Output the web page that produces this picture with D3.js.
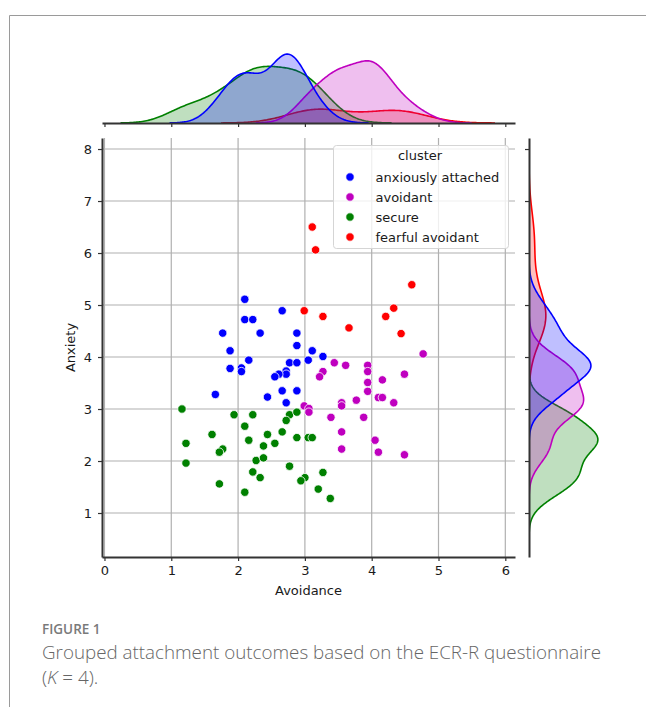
<!DOCTYPE html>
<html><head><meta charset="utf-8">
<script src="https://cdn.jsdelivr.net/npm/d3@7"></script>
<style>
html,body{margin:0;padding:0;background:#fff;}
svg{display:block;}
</style></head>
<body>
<script>
// ---------- data ----------
const clusters = ["anxiously attached", "avoidant", "secure", "fearful avoidant"];
const clusterColors = ["#0000ff", "#bf00bf", "#008000", "#ff0000"];

const anxiousAvoidance = [2.10,2.66,2.10,2.22,1.77,2.33,2.88,2.88,1.88,3.11,2.16,2.77,2.88,3.05,3.27,1.88,2.05,2.05,2.72,2.72,2.61,2.55,1.66,2.66,2.88,2.44,2.72];
const anxiousAnxiety   = [5.11,4.89,4.72,4.72,4.46,4.46,4.46,4.22,4.12,4.12,3.94,3.89,3.89,3.94,4.01,3.78,3.79,3.72,3.73,3.67,3.67,3.62,3.28,3.35,3.35,3.23,3.12];

const avoidantAvoidance = [4.77,3.44,3.61,3.94,3.94,3.27,3.22,4.49,3.94,4.16,3.94,3.77,4.10,4.16,4.33,3.55,3.55,2.99,3.06,3.06,3.39,3.88,3.55,4.05,3.55,4.10,4.49];
const avoidantAnxiety   = [4.06,3.89,3.84,3.84,3.72,3.72,3.62,3.67,3.51,3.56,3.34,3.17,3.22,3.22,3.12,3.12,3.06,3.06,3.01,2.94,2.84,2.84,2.56,2.40,2.23,2.17,2.12];

const secureAvoidance = [1.16,1.94,2.22,2.77,2.88,2.72,2.10,2.66,1.61,2.44,2.88,3.05,3.11,2.16,2.55,1.22,2.38,1.77,1.72,2.27,2.38,1.22,2.77,2.22,2.33,3.00,2.94,1.72,2.10,3.20,3.27,3.38];
const secureAnxiety   = [3.00,2.89,2.89,2.89,2.94,2.78,2.67,2.56,2.51,2.51,2.45,2.45,2.45,2.40,2.34,2.34,2.29,2.23,2.17,2.01,2.06,1.96,1.90,1.79,1.68,1.68,1.62,1.56,1.40,1.46,1.78,1.28];

const fearfulAvoidance = [3.11,3.16,4.60,4.33,2.99,3.27,4.21,3.66,4.44];
const fearfulAnxiety   = [6.50,6.06,5.39,4.94,4.89,4.78,4.78,4.56,4.45];

const xTicks = [0,1,2,3,4,5,6];
const yTicks = [1,2,3,4,5,6,7,8];

const groupX = [anxiousAvoidance, avoidantAvoidance, secureAvoidance, fearfulAvoidance];
const groupY = [anxiousAnxiety, avoidantAnxiety, secureAnxiety, fearfulAnxiety];

// ---------- layout ----------
const W = 646, H = 707;
const svg = d3.select("body").append("svg").attr("width", W).attr("height", H);
svg.append("rect").attr("width", W).attr("height", H).attr("fill", "#fff");

// frame (top & left border)
svg.append("path").attr("d", "M9.5,707 V15.5 H646").attr("fill", "none").attr("stroke", "#9a9a9a").attr("stroke-width", 1);

const x = d3.scaleLinear().domain([-0.037, 6.145]).range([102, 515]);
const y = d3.scaleLinear().domain([0.154, 8.212]).range([557, 138]);

const font = "'DejaVu Sans', sans-serif";
const axisCol = "#333";

// grid
const g = svg.append("g");
g.selectAll(".gx").data(xTicks).join("line")
  .attr("x1", d => x(d)).attr("x2", d => x(d)).attr("y1", y.range()[0]).attr("y2", y.range()[1])
  .attr("stroke", "#b0b0b0").attr("stroke-width", 1.2);
g.selectAll(".gy").data(yTicks).join("line")
  .attr("y1", d => y(d)).attr("y2", d => y(d)).attr("x1", x.range()[0]).attr("x2", x.range()[1])
  .attr("stroke", "#b0b0b0").attr("stroke-width", 1.2);

// axes
const xAxis = d3.axisBottom(x).tickValues(xTicks).tickFormat(d3.format("d")).tickSize(4).tickPadding(5).tickSizeOuter(0);
const yAxis = d3.axisLeft(y).tickValues(yTicks).tickFormat(d3.format("d")).tickSize(4).tickPadding(6).tickSizeOuter(0);
const gx = svg.append("g").attr("transform", `translate(0,${y.range()[0]})`).call(xAxis);
const gy = svg.append("g").attr("transform", `translate(${x.range()[0]},0)`).call(yAxis);
[gx, gy].forEach(a => {
  a.attr("font-family", font).attr("font-size", 13);
  a.select(".domain").attr("stroke", axisCol).attr("stroke-width", 2);
  a.selectAll(".tick line").attr("stroke", axisCol).attr("stroke-width", 1.2);
  a.selectAll(".tick text").attr("font-family", font).attr("font-size", 13).attr("fill", "#1a1a1a");
});

svg.append("text").attr("x", (x.range()[0] + x.range()[1]) / 2).attr("y", 595)
  .attr("text-anchor", "middle").attr("font-family", font).attr("font-size", 13).attr("fill", "#1a1a1a").text("Avoidance");
svg.append("text").attr("transform", `translate(75,${(y.range()[0] + y.range()[1]) / 2}) rotate(-90)`)
  .attr("text-anchor", "middle").attr("font-family", font).attr("font-size", 13).attr("fill", "#1a1a1a").text("Anxiety");

// ---------- KDE ----------
function kde(values, weight) {
  const n = values.length;
  const sd = d3.deviation(values);
  const bw = sd * Math.pow(n, -1 / 5);
  const lo = d3.min(values) - 3 * bw, hi = d3.max(values) + 3 * bw;
  const grid = d3.range(200).map(i => lo + (hi - lo) * i / 199);
  return grid.map(t => {
    let s = 0;
    for (const v of values) { const z = (t - v) / bw; s += Math.exp(-0.5 * z * z); }
    return [t, weight * s / (n * bw * Math.sqrt(2 * Math.PI))];
  });
}
const N = d3.sum(groupX, a => a.length);
const kdeX = groupX.map(a => kde(a, a.length / N));
const kdeY = groupY.map(a => kde(a, a.length / N));
const maxDX = d3.max(kdeX, c => d3.max(c, d => d[1]));
const maxDY = d3.max(kdeY, c => d3.max(c, d => d[1]));

const dTop = d3.scaleLinear().domain([0, maxDX / 0.82]).range([123, 39]);
const dRight = d3.scaleLinear().domain([0, maxDY / 0.82]).range([529, 613]);

svg.append("defs").append("clipPath").attr("id", "clipR").append("rect")
  .attr("x", 529).attr("y", y.range()[1]).attr("width", 120).attr("height", y.range()[0] - y.range()[1]);

const order = [3, 2, 1, 0]; // seaborn draws hue levels in reverse
const topG = svg.append("g");
const rightG = svg.append("g").attr("clip-path", "url(#clipR)");
order.forEach(i => {
  const areaT = d3.area().x(d => x(d[0])).y0(dTop(0)).y1(d => dTop(d[1]));
  const lineT = d3.line().x(d => x(d[0])).y(d => dTop(d[1]));
  topG.append("path").datum(kdeX[i]).attr("d", areaT).attr("fill", clusterColors[i]).attr("fill-opacity", 0.25);
  topG.append("path").datum(kdeX[i]).attr("d", lineT).attr("fill", "none").attr("stroke", clusterColors[i]).attr("stroke-width", 1.6);
  const areaR = d3.area().y(d => y(d[0])).x0(dRight(0)).x1(d => dRight(d[1]));
  const lineR = d3.line().y(d => y(d[0])).x(d => dRight(d[1]));
  rightG.append("path").datum(kdeY[i]).attr("d", areaR).attr("fill", clusterColors[i]).attr("fill-opacity", 0.25);
  rightG.append("path").datum(kdeY[i]).attr("d", lineR).attr("fill", "none").attr("stroke", clusterColors[i]).attr("stroke-width", 1.6);
});

// marginal axes
const mx = svg.append("g").attr("transform", "translate(0,123)")
  .call(d3.axisBottom(x).tickValues(xTicks).tickSize(4).tickFormat("").tickSizeOuter(0));
const my = svg.append("g").attr("transform", "translate(529,0)")
  .call(d3.axisLeft(y).tickValues(yTicks).tickSize(4).tickFormat("").tickSizeOuter(0));
[mx, my].forEach(a => {
  a.select(".domain").attr("stroke", axisCol).attr("stroke-width", 2);
  a.selectAll(".tick line").attr("stroke", axisCol).attr("stroke-width", 1.2);
});

// ---------- scatter ----------
const pts = svg.append("g");
groupX.forEach((xs, i) => {
  pts.selectAll(null).data(xs.map((v, j) => [v, groupY[i][j]])).join("circle")
    .attr("cx", d => x(d[0])).attr("cy", d => y(d[1])).attr("r", 4.2)
    .attr("fill", clusterColors[i]).attr("stroke", "#fff").attr("stroke-width", 0.8);
});

// ---------- legend ----------
const lg = svg.append("g");
lg.append("rect").attr("x", 333.5).attr("y", 145.5).attr("width", 175).attr("height", 103).attr("rx", 3)
  .attr("fill", "#fff").attr("fill-opacity", 0.8).attr("stroke", "#d5d5d5");
lg.append("text").attr("x", 420).attr("y", 160).attr("text-anchor", "middle")
  .attr("font-family", font).attr("font-size", 13).attr("fill", "#1a1a1a").text("cluster");
clusters.forEach((c, i) => {
  const yy = 177 + i * 20;
  lg.append("circle").attr("cx", 350).attr("cy", yy).attr("r", 4.2).attr("fill", clusterColors[i]).attr("stroke", "#fff").attr("stroke-width", 0.8);
  lg.append("text").attr("x", 375.5).attr("y", yy + 4.5).attr("font-family", font).attr("font-size", 13).attr("fill", "#1a1a1a").text(c);
});

// ---------- caption ----------
svg.append("text").attr("x", 42).attr("y", 634).attr("font-family", "'Open Sans', sans-serif").attr("font-size", 13.5)
  .attr("font-weight", 600).attr("fill", "#7a7a7a").text("FIGURE 1");
svg.append("text").attr("x", 42).attr("y", 659).attr("font-family", "'Open Sans', sans-serif").attr("font-size", 18.8)
  .attr("font-weight", 300).attr("fill", "#666").text("Grouped attachment outcomes based on the ECR-R questionnaire");
const l2 = svg.append("text").attr("x", 42).attr("y", 684).attr("font-family", "'Open Sans', sans-serif").attr("font-size", 18.8)
  .attr("font-weight", 300).attr("fill", "#666");
l2.append("tspan").text("(");
l2.append("tspan").attr("font-style", "italic").text("K");
l2.append("tspan").text(" = 4).");
</script>
</body></html>
